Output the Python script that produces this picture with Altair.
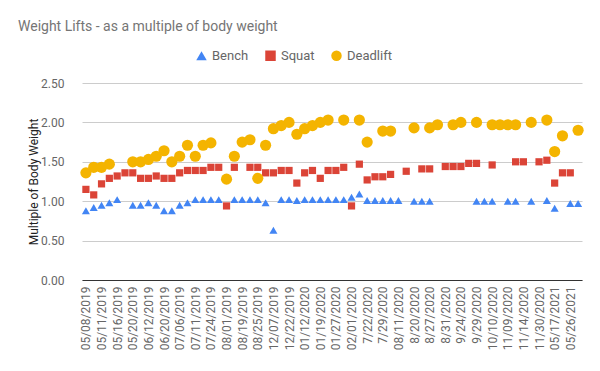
import altair as alt
import pandas as pd

# Category labels (every other one is shown on the axis)
dates = [
    "05/08/2019", "05/09/2019", "05/11/2019", "05/13/2019", "05/16/2019", "05/18/2019",
    "05/20/2019", "05/25/2019", "06/12/2019", "06/15/2019", "06/20/2019", "06/27/2019",
    "07/06/2019", "07/08/2019", "07/11/2019", "07/18/2019", "07/24/2019", "07/28/2019",
    "08/01/2019", "08/10/2019", "08/19/2019", "08/22/2019", "08/25/2019", "09/01/2019",
    "12/07/2019", "12/14/2019", "12/22/2019", "01/05/2020", "01/12/2020", "01/15/2020",
    "01/19/2020", "01/22/2020", "01/27/2020", "01/29/2020", "02/01/2020", "02/08/2020",
    "7/22/2020", "7/25/2020", "7/29/2020", "08/05/2020", "08/11/2020", "8/15/2020",
    "8/20/2020", "8/24/2020", "8/27/2020", "8/29/2020", "8/31/2020", "9/20/2020",
    "9/24/2020", "9/26/2020", "9/29/2020", "10/03/2020", "10/10/2020", "10/20/2020",
    "11/09/2020", "11/11/2020", "11/14/2020", "11/20/2020", "11/30/2020", "12/05/2020",
    "05/17/2021", "05/21/2021", "05/26/2021", "05/31/2021",
]
label_dates = dates[::2]

bench = [
    0.88, 0.92, 0.95, 0.98, 1.02, None, 0.95, 0.95, 0.98, 0.95, 0.88, 0.88,
    0.95, 0.98, 1.02, 1.02, 1.02, 1.02, None, 1.02, 1.02, 1.02, 1.02, 0.98,
    0.63, 1.02, 1.02, 1.01, 1.02, 1.02, 1.02, 1.02, 1.02, 1.02, 1.05, 1.09,
    1.01, 1.01, 1.01, 1.01, 1.01, None, 1.00, 1.00, 1.00, None, None, None,
    None, None, 1.00, 1.00, 1.00, None, 1.00, 1.00, None, 1.00, None, 1.01,
    0.91, None, 0.97, 0.97,
]
squat = [
    1.15, 1.08, 1.22, 1.29, 1.32, 1.36, 1.36, 1.29, 1.29, 1.32, 1.29, 1.29,
    1.36, 1.39, 1.39, 1.39, 1.43, 1.43, 0.94, 1.43, None, 1.43, 1.43, 1.36,
    1.36, 1.39, 1.39, 1.23, 1.36, 1.39, 1.29, 1.39, 1.39, 1.43, 0.94, 1.47,
    1.27, 1.31, 1.31, 1.34, None, 1.38, None, 1.41, 1.41, None, 1.44, 1.44,
    1.44, 1.48, 1.48, None, 1.46, None, None, 1.50, 1.50, None, 1.50, 1.52,
    1.23, 1.36, 1.36, None,
]
deadlift = [
    1.36, 1.43, 1.43, 1.47, None, None, 1.50, 1.50, 1.53, 1.57, 1.64, 1.50,
    1.57, 1.71, 1.57, 1.71, 1.74, None, 1.28, 1.57, 1.75, 1.78, 1.29, 1.71,
    1.92, 1.96, 2.00, 1.85, 1.92, 1.96, 2.00, 2.03, None, 2.03, None, 2.03,
    1.75, None, 1.89, 1.89, None, None, 1.93, None, 1.93, 1.97, None, 1.97,
    2.00, None, 2.00, None, 1.97, 1.97, 1.97, 1.97, None, 2.00, None, 2.03,
    1.63, 1.83, None, 1.90,
]

lifts = ["Bench", "Squat", "Deadlift"]
colors = ["#4285F4", "#DB4437", "#F4B400"]
shapes = ["triangle-up", "square", "circle"]
sizes = [65, 52, 125]
y_ticks = [0, 0.5, 1.0, 1.5, 2.0, 2.5]

rows = []
for name, vals, sz in zip(lifts, [bench, squat, deadlift], sizes):
    for d, v in zip(dates, vals):
        if v is not None:
            rows.append({"Date": d, "Lift": name, "Value": v, "Sz": sz})
df = pd.DataFrame(rows)

legend = alt.Legend(
    title=None, orient="none", direction="horizontal", legendX=113, legendY=-34,
    labelFont="Roboto", labelFontSize=13, labelColor="#666666", columnPadding=15,
    symbolOpacity=1, symbolStrokeWidth=0, symbolSize=110,
)

chart = alt.Chart(df).mark_point(filled=True, opacity=1, strokeWidth=0).encode(
    x=alt.X(
        "Date:N",
        sort=dates,
        scale=alt.Scale(type="point", padding=0.5, domain=dates),
        axis=alt.Axis(
            values=label_dates, title=None, labelAngle=270, labelFont="Roboto",
            labelFontSize=12, labelColor="#666666", labelPadding=6, ticks=False,
            domainColor="#333333", grid=False, labelOverlap=False,
        ),
    ),
    y=alt.Y(
        "Value:Q",
        scale=alt.Scale(domain=[0, 2.5], nice=False),
        axis=alt.Axis(
            values=y_ticks, format=".2f", title="Multiple of Body Weight",
            titleFont="Roboto", titleFontSize=12, titleFontWeight="normal",
            titleColor="#222222", titlePadding=0, labelFont="Roboto",
            labelFontSize=12, labelColor="#666666", labelPadding=18,
            ticks=False, domain=False, gridColor="#cccccc",
        ),
    ),
    color=alt.Color("Lift:N", scale=alt.Scale(domain=lifts, range=colors), legend=legend),
    shape=alt.Shape("Lift:N", scale=alt.Scale(domain=lifts, range=shapes), legend=legend),
    size=alt.Size("Sz:Q", scale=None, legend=None),
).properties(
    width=500,
    height=197,
    padding={"left": 74, "top": 75, "right": 10, "bottom": 80},
    autosize=alt.AutoSizeParams(type="none"),
    title=alt.TitleParams(
        "Weight Lifts - as a multiple of body weight", anchor="start", frame="group",
        dx=-64, font="Roboto", fontSize=14, fontWeight="normal", color="#757575",
        offset=15,
    ),
).configure_view(stroke=None)

chart.save("out.html", embed_options={"renderer": "svg", "actions": False})
